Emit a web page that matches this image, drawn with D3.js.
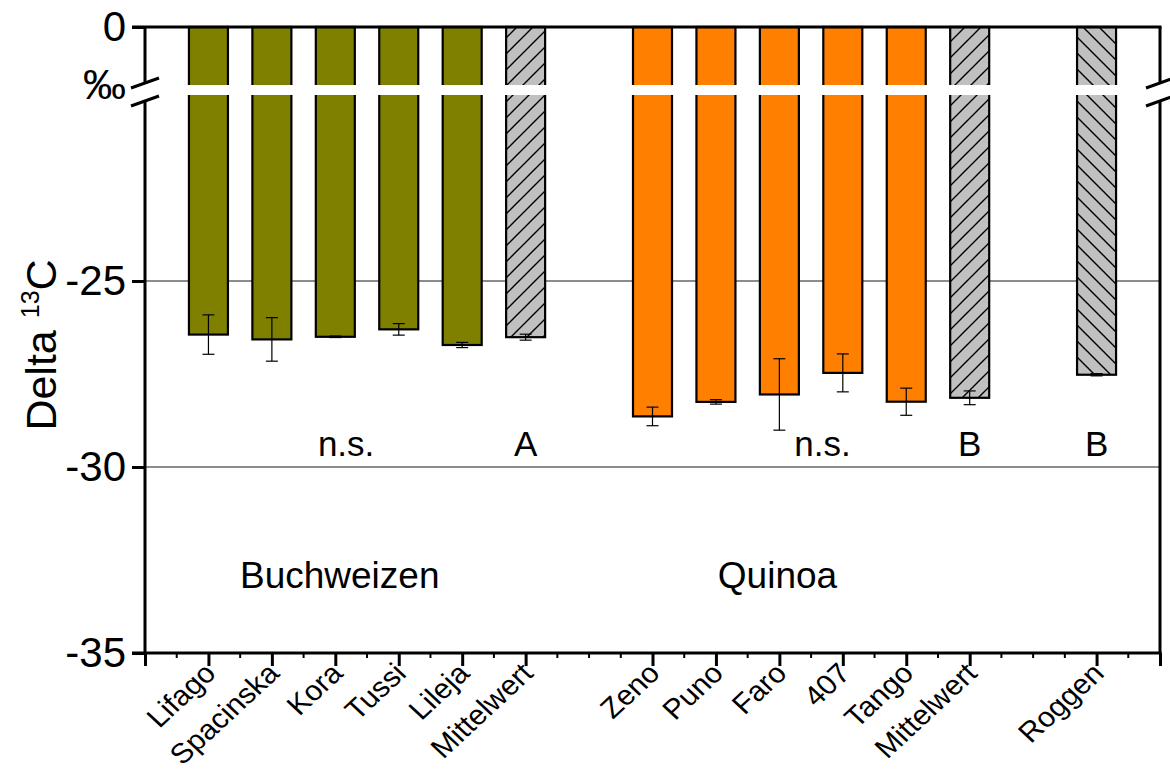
<!DOCTYPE html>
<html>
<head>
<meta charset="utf-8">
<script src="https://cdn.jsdelivr.net/npm/d3@7"></script>
<style>
  html, body { margin: 0; padding: 0; background: #fff; }
  svg { display: block; font-family: "Liberation Sans", Arial, sans-serif; }
</style>
</head>
<body>
<svg id="chart" width="1170" height="769"></svg>
<script>
// Varieties along the x axis; empty strings separate the crop groups
const categories = ["Lifago", "Spacinska", "Kora", "Tussi", "Lileja", "Mittelwert", "",
                    "Zeno", "Puno", "Faro", "407", "Tango", "Mittelwert", "", "Roggen"];
// Crop / kind of each bar
const kinds = ["buckwheat", "buckwheat", "buckwheat", "buckwheat", "buckwheat", "meanA", null,
               "quinoa", "quinoa", "quinoa", "quinoa", "quinoa", "meanB", null, "rye"];
// Delta 13C (‰) means and standard deviations
const values = [-26.44, -26.57, -26.50, -26.30, -26.72, -26.51, null,
                -28.64, -28.25, -28.05, -27.47, -28.245, -28.14, null, -27.52];
const errors = [0.53, 0.585, 0.02, 0.155, 0.07, 0.08, null,
                0.25, 0.06, 0.96, 0.51, 0.365, 0.185, null, 0.03];
// Axis ticks of the two y segments
const upperTicks = [0];
const lowerTicks = [-25, -30, -35];
const gridValues = [-25, -30];
// Significance letters: [text, category index, offset in category steps]
const letters = [["n.s.", 2, 0.17], ["A", 5, 0], ["n.s.", 9, 0.68], ["B", 12, 0], ["B", 14, 0]];
// Crop group names: [text, category index, offset]
const groupNames = [["Buchweizen", 2, 0.07], ["Quinoa", 9, -0.03]];

const svg = d3.select("#chart");
const left = 145, right = 1160;
const x = d3.scaleLinear().domain([0, categories.length + 1]).range([left, right]);
const yTop = d3.scaleLinear().domain([0, -1.56]).range([27, 85]);
const yLow = d3.scaleLinear().domain([-20, -35]).range([95, 653]);
const gapTop = 85, gapBottom = 95;
const barW = 39;

const fills = { buckwheat: "#808000", quinoa: "#ff8000", meanA: "url(#hatchF)", meanB: "url(#hatchF)", rye: "url(#hatchB)" };

// Hatch patterns for the mean and rye bars
const defs = svg.append("defs");
function hatch(id, forward) {
  const p = defs.append("pattern").attr("id", id).attr("patternUnits", "userSpaceOnUse")
    .attr("width", 16).attr("height", 16);
  p.append("rect").attr("width", 16).attr("height", 16).attr("fill", "#c0c0c0");
  const d = forward ? "M-4,4 L4,-4 M0,16 L16,0 M12,20 L20,12" : "M-4,12 L4,20 M0,0 L16,16 M12,-4 L20,4";
  p.append("path").attr("d", d).attr("stroke", "#000").attr("stroke-width", 1.4);
}
hatch("hatchF", true);
hatch("hatchB", false);

// Grid lines
svg.append("g").selectAll("line").data(gridValues).join("line")
  .attr("x1", left).attr("x2", right)
  .attr("y1", d => yLow(d)).attr("y2", d => yLow(d))
  .attr("stroke", "#8c8c8c").attr("stroke-width", 2);

const data = categories.map((c, i) => ({ c, i, kind: kinds[i], v: values[i], e: errors[i] }))
  .filter(d => d.v !== null);

// Bars run from 0 down to the value across the broken axis
svg.append("g").selectAll("rect").data(data).join("rect")
  .attr("x", d => x(d.i + 1) - barW / 2)
  .attr("y", yTop(0))
  .attr("width", barW)
  .attr("height", d => yLow(d.v) - yTop(0))
  .attr("fill", d => fills[d.kind])
  .attr("stroke", "#000").attr("stroke-width", 2.2);

// Error bars
const eb = svg.append("g").attr("stroke", "#000").attr("stroke-width", 1.2);
data.forEach(d => {
  const cx = x(d.i + 1), y1 = yLow(d.v + d.e), y2 = yLow(d.v - d.e);
  eb.append("line").attr("x1", cx).attr("x2", cx).attr("y1", y1).attr("y2", y2);
  [y1, y2].forEach(yy => eb.append("line").attr("x1", cx - 6).attr("x2", cx + 6).attr("y1", yy).attr("y2", yy));
});

// White band of the axis break
svg.append("rect").attr("x", left + 2).attr("y", gapTop).attr("width", right - left - 4)
  .attr("height", gapBottom - gapTop).attr("fill", "#fff");

// Frame lines
const frame = svg.append("g").attr("stroke", "#000").attr("stroke-width", 3).attr("fill", "none");
frame.append("line").attr("x1", left - 13).attr("x2", right + 1.5).attr("y1", yTop(0)).attr("y2", yTop(0));
frame.append("line").attr("x1", left).attr("x2", left).attr("y1", yTop(0)).attr("y2", yLow(-35));
frame.append("line").attr("x1", right).attr("x2", right).attr("y1", yTop(0)).attr("y2", yLow(-35));
frame.append("line").attr("x1", left - 13).attr("x2", right + 1.5).attr("y1", yLow(-35)).attr("y2", yLow(-35));

// Axis break symbols
[left, right].forEach(ax => {
  svg.append("path").attr("d", `M${ax - 16},${gapTop + 4} L${ax + 16},${gapTop - 7} L${ax + 16},${gapBottom + 1} L${ax - 16},${gapBottom + 12} Z`)
    .attr("fill", "#fff");
  svg.append("path").attr("d", `M${ax - 14},${gapTop + 3} L${ax + 14},${gapTop - 7} M${ax - 14},${gapBottom + 11} L${ax + 14},${gapBottom + 1}`)
    .attr("stroke", "#000").attr("stroke-width", 3).attr("fill", "none");
});

// Y axes (upper and lower segments)
function styleAxis(g) {
  g.select(".domain").remove();
  g.selectAll(".tick line").attr("stroke", "#000").attr("stroke-width", 3);
  g.selectAll(".tick text").attr("font-size", 42).attr("fill", "#000").attr("font-family", "Liberation Sans, Arial, sans-serif");
}
svg.append("g").attr("transform", `translate(${left},0)`)
  .call(d3.axisLeft(yTop).tickValues(upperTicks).tickSize(13).tickPadding(6).tickFormat(d3.format("d")))
  .call(styleAxis);
svg.append("g").attr("transform", `translate(${left},0)`)
  .call(d3.axisLeft(yLow).tickValues(lowerTicks).tickSize(13).tickPadding(6).tickFormat(d => "-" + Math.abs(d)))
  .call(styleAxis);

// Unit at the break
svg.append("text").attr("x", 126).attr("y", 99).attr("text-anchor", "end")
  .attr("font-size", 43).text("‰");

// X axis: major ticks at the varieties and ends, minor ticks in between
const labelled = categories.map((c, i) => c ? i + 1 : null).filter(v => v !== null);
const majors = [0, ...labelled, categories.length + 1];
const minors = d3.range(0, categories.length + 1.01, 0.5).filter(v => !majors.includes(v));
const xAxis = svg.append("g").attr("transform", `translate(0,${yLow(-35)})`)
  .call(d3.axisBottom(x).tickValues(majors).tickSize(13).tickFormat(() => ""));
xAxis.select(".domain").remove();
xAxis.selectAll(".tick line").attr("stroke", "#000").attr("stroke-width", 3);
svg.append("g").selectAll("line").data(minors).join("line")
  .attr("x1", d => x(d)).attr("x2", d => x(d))
  .attr("y1", yLow(-35)).attr("y2", yLow(-35) + 5)
  .attr("stroke", "#000").attr("stroke-width", 2);

svg.append("g").selectAll("text").data(labelled).join("text")
  .attr("transform", d => `translate(${x(d) + 9},${yLow(-35) + 22}) scale(1.08,1) rotate(-45)`)
  .attr("text-anchor", "end").attr("font-size", 28).attr("fill", "#000")
  .text(d => categories[d - 1]);

// Significance letters and group names
svg.append("g").selectAll("text").data(letters).join("text")
  .attr("x", d => x(d[1] + 1 + d[2])).attr("y", 456)
  .attr("text-anchor", "middle").attr("font-size", 35).text(d => d[0]);
svg.append("g").selectAll("text").data(groupNames).join("text")
  .attr("x", d => x(d[1] + 1 + d[2])).attr("y", 588)
  .attr("text-anchor", "middle").attr("font-size", 37).text(d => d[0]);

// Y title
const title = svg.append("text").attr("transform", "translate(56,345) rotate(-90)")
  .attr("text-anchor", "middle").attr("font-size", 43);
title.append("tspan").text("Delta ");
title.append("tspan").attr("font-size", 25).attr("dy", -17).text("13");
title.append("tspan").attr("dy", 17).text("C");
</script>
</body>
</html>
